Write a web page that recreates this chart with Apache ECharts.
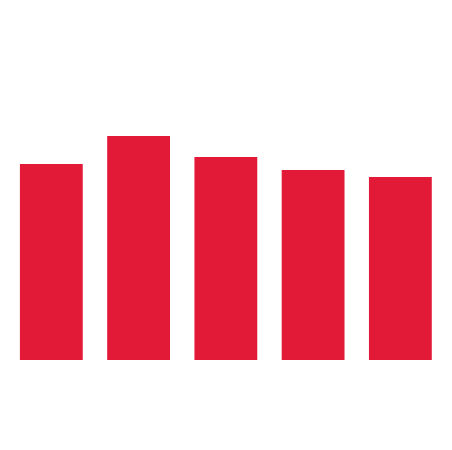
<!DOCTYPE html>
<html>
<head>
<meta charset="utf-8">
<script src="https://cdn.jsdelivr.net/npm/echarts@6/dist/echarts.min.js"></script>
<style>
  html, body { margin: 0; padding: 0; background: #fff; }
  #chart { width: 452px; height: 450px; }
</style>
</head>
<body>
<div id="chart"></div>
<script>
const categories = ['A', 'B', 'C', 'D', 'E']
const values = [196, 224, 203, 190, 183]

const chart = echarts.init(document.getElementById('chart'))
chart.setOption({
  animation: false,
  grid: { left: 7.7, right: 8, top: 60, bottom: 90 },
  xAxis: {
    type: 'category',
    data: categories,
    show: false
  },
  yAxis: {
    type: 'value',
    min: 0,
    max: 300,
    show: false
  },
  series: [
    {
      type: 'bar',
      data: values,
      barCategoryGap: '28%',
      itemStyle: { color: '#e31a37' }
    }
  ]
})
</script>
</body>
</html>
